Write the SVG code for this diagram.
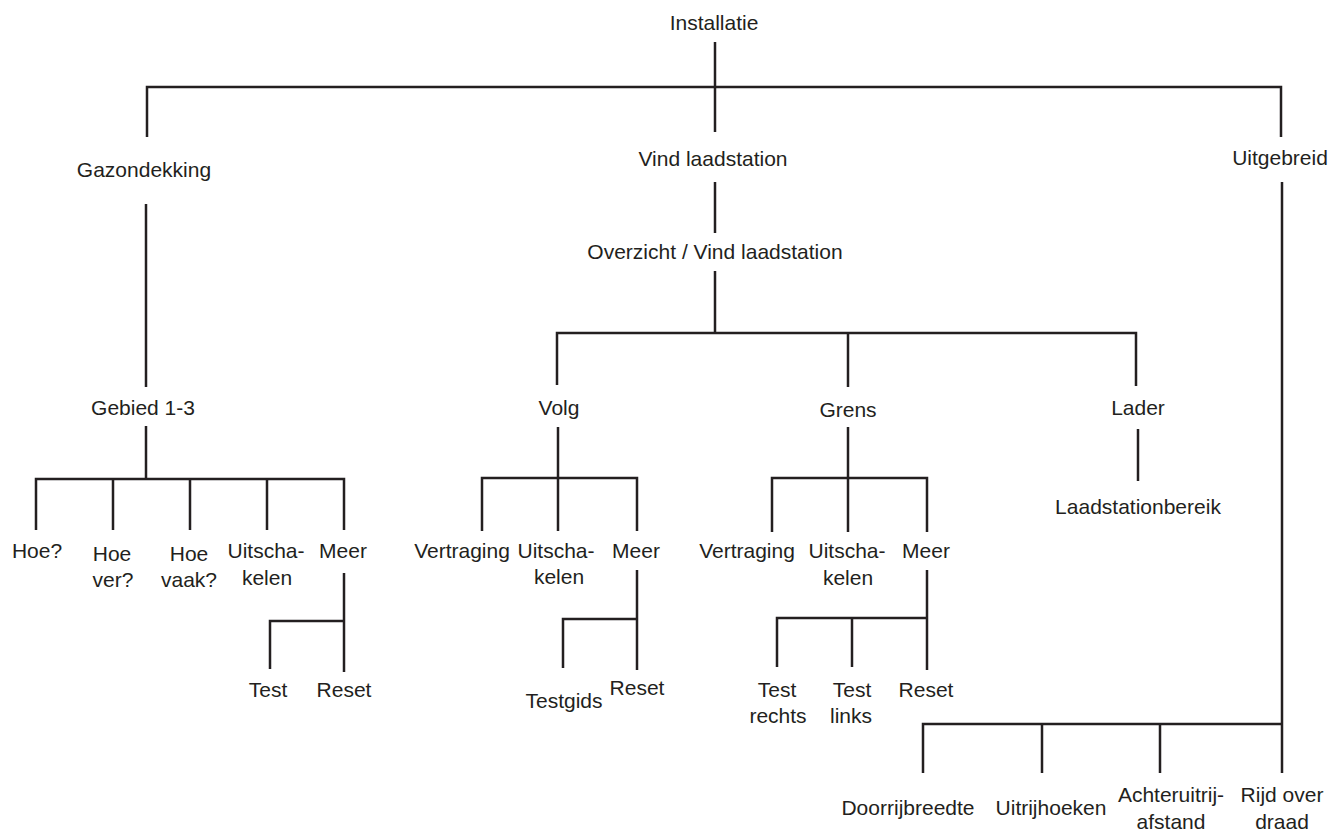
<svg xmlns="http://www.w3.org/2000/svg" width="1329" height="831" viewBox="0 0 1329 831">
<style>
  text { font-family: "Liberation Sans", Arial, sans-serif; font-size: 21px; fill: #231f20; text-anchor: middle; }
  .c path { fill: none; stroke: #231f20; stroke-width: 2.5; stroke-linecap: butt; stroke-linejoin: miter; }
</style>
<rect width="1329" height="831" fill="#ffffff"/>
<g class="c" id="connectors">
  <path d="M715,42 V132"/>
  <path d="M147,137 V87 H1281 V137"/>
  <path d="M146,204 V387"/>
  <path d="M146,426 V479"/>
  <path d="M36,530 V479 H344 V530"/>
  <path d="M113,479 V530 M190,479 V530 M267,479 V530"/>
  <path d="M344,573 V672"/>
  <path d="M270,669 V621 H344"/>
  <path d="M715,182 V233"/>
  <path d="M715,271 V333"/>
  <path d="M557,385 V333 H1136 V386"/>
  <path d="M848,333 V387"/>
  <path d="M558,427 V478"/>
  <path d="M482,531 V478 H637 V531"/>
  <path d="M558,478 V531"/>
  <path d="M637,570 V670"/>
  <path d="M563,668 V619 H637"/>
  <path d="M848,427 V478"/>
  <path d="M772,532 V478 H927 V532"/>
  <path d="M848,478 V532"/>
  <path d="M927,570 V670"/>
  <path d="M777,667 V618 H927"/>
  <path d="M852,618 V667"/>
  <path d="M1138,429 V481"/>
  <path d="M1282,182 V773"/>
  <path d="M923,773 V724 H1282"/>
  <path d="M1042,724 V773 M1160,724 V773"/>
</g>
<g id="n-installatie"><text x="714" y="30">Installatie</text></g>
<g id="n-gazondekking"><text x="144" y="177">Gazondekking</text></g>
<g id="n-vind"><text x="713" y="166">Vind laadstation</text></g>
<g id="n-overzicht"><text x="715" y="259">Overzicht / Vind laadstation</text></g>
<g id="n-uitgebreid"><text x="1280" y="165">Uitgebreid</text></g>
<g id="n-gebied"><text x="143" y="415">Gebied 1-3</text></g>
<g id="n-hoe"><text x="37" y="558">Hoe?</text></g>
<g id="n-hoever"><text x="112" y="561">Hoe</text><text x="113" y="587">ver?</text></g>
<g id="n-hoevaak"><text x="189" y="561">Hoe</text><text x="189" y="587">vaak?</text></g>
<g id="n-uit1"><text x="266" y="558">Uitscha-</text><text x="267" y="585">kelen</text></g>
<g id="n-meer1"><text x="343" y="558">Meer</text></g>
<g id="n-test1"><text x="268" y="697">Test</text></g>
<g id="n-reset1"><text x="344" y="697">Reset</text></g>
<g id="n-volg"><text x="559" y="415">Volg</text></g>
<g id="n-vertr1"><text x="462" y="558">Vertraging</text></g>
<g id="n-uit2"><text x="556" y="558">Uitscha-</text><text x="559" y="584">kelen</text></g>
<g id="n-meer2"><text x="636" y="558">Meer</text></g>
<g id="n-testgids"><text x="564" y="708">Testgids</text></g>
<g id="n-reset2"><text x="637" y="695">Reset</text></g>
<g id="n-grens"><text x="848" y="417">Grens</text></g>
<g id="n-vertr2"><text x="747" y="558">Vertraging</text></g>
<g id="n-uit3"><text x="847" y="558">Uitscha-</text><text x="848" y="585">kelen</text></g>
<g id="n-meer3"><text x="926" y="558">Meer</text></g>
<g id="n-testr"><text x="777" y="697">Test</text><text x="778" y="723">rechts</text></g>
<g id="n-testl"><text x="852" y="697">Test</text><text x="851" y="723">links</text></g>
<g id="n-reset3"><text x="926" y="697">Reset</text></g>
<g id="n-lader"><text x="1138" y="415">Lader</text></g>
<g id="n-bereik"><text x="1138" y="514">Laadstationbereik</text></g>
<g id="n-doorrij"><text x="908" y="815">Doorrijbreedte</text></g>
<g id="n-uitrij"><text x="1051" y="815">Uitrijhoeken</text></g>
<g id="n-achter"><text x="1171" y="802">Achteruitrij-</text><text x="1171" y="829">afstand</text></g>
<g id="n-rijd"><text x="1282" y="802">Rijd over</text><text x="1282" y="829">draad</text></g>
</svg>
